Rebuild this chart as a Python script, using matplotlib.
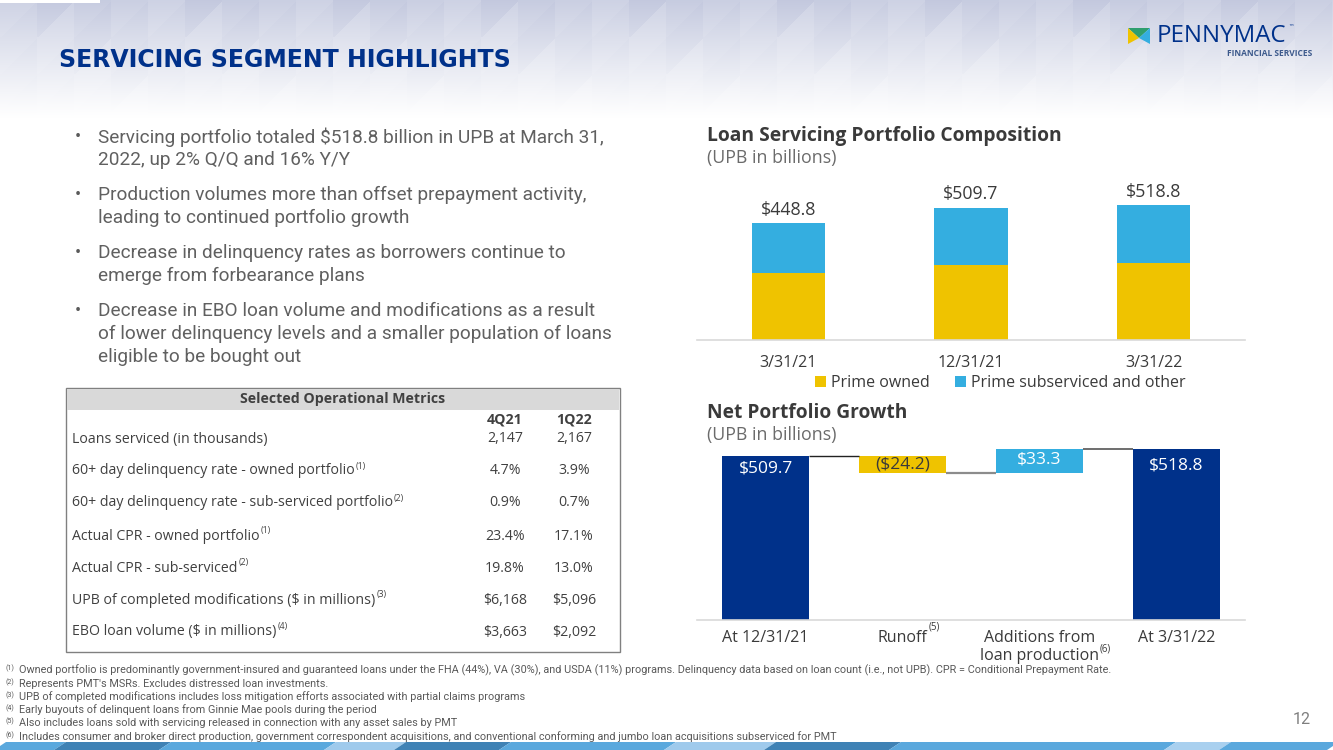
import numpy as np
import matplotlib
matplotlib.use('Agg')
import matplotlib.pyplot as plt
from matplotlib.patches import Rectangle, Polygon

# ---- data ----
comp_dates = ['3/31/21', '12/31/21', '3/31/22']
prime_owned = [259.0, 290.0, 297.0]
prime_subserviced = [189.8, 219.7, 221.8]

wf_labels = ['At 12/31/21', 'Runoff', 'Additions from\nloan production', 'At 3/31/22']
wf_sups = ['', '(5)', '(6)', '']
upb_start = 509.7
runoff = -24.2
additions = 33.3
upb_end = 518.8

metric_names = ['Loans serviced (in thousands)',
                '60+ day delinquency rate - owned portfolio',
                '60+ day delinquency rate - sub-serviced portfolio',
                'Actual CPR - owned portfolio',
                'Actual CPR - sub-serviced',
                'UPB of completed modifications ($ in millions)',
                'EBO loan volume ($ in millions)']
metric_sups = ['', '(1)', '(2)', '(1)', '(2)', '(3)', '(4)']
q4_21 = ['2,147', '4.7%', '0.9%', '23.4%', '19.8%', '$6,168', '$3,663']
q1_22 = ['2,167', '3.9%', '0.7%', '17.1%', '13.0%', '$5,096', '$2,092']

bullets = [
    ['Servicing portfolio totaled $518.8 billion in UPB at March 31,', '2022, up 2% Q/Q and 16% Y/Y'],
    ['Production volumes more than offset prepayment activity,', 'leading to continued portfolio growth'],
    ['Decrease in delinquency rates as borrowers continue to', 'emerge from forbearance plans'],
    ['Decrease in EBO loan volume and modifications as a result',
     'of lower delinquency levels and a smaller population of loans', 'eligible to be bought out'],
]

footnotes = [
    'Owned portfolio is predominantly government-insured and guaranteed loans under the FHA (44%), VA (30%), and USDA (11%) programs. '
    'Delinquency data based on loan count (i.e., not UPB). CPR = Conditional Prepayment Rate.',
    "Represents PMT's MSRs. Excludes distressed loan investments.",
    'UPB of completed modifications includes loss mitigation efforts associated with partial claims programs',
    'Early buyouts of delinquent loans from Ginnie Mae pools during the period',
    'Also includes loans sold with servicing released in connection with any asset sales by PMT',
    'Includes consumer and broker direct production, government correspondent acquisitions, and conventional conforming and jumbo loan acquisitions subserviced for PMT',
]

NAVY = '#00318a'
YELLOW = '#efc300'
SKY = '#34aee0'
DARK = '#3a3a3a'
GRAY = '#595959'
CHART_FONT = 'Open Sans'
BODY_FONT = 'Roboto'

W, H = 1333, 750
fig = plt.figure(figsize=(W / 100, H / 100), dpi=100)
renderer = fig.canvas.get_renderer()

# ---- background ----
bg = fig.add_axes([0, 0, 1, 1], zorder=-5)
yy, xx = np.mgrid[0:H, 0:W]
w = np.clip(1 - yy / 118.0, 0, 1) ** 1.1
s = 37
ci = (xx // s) * 3 + (yy // s) * 5
tri = ((xx % s) + (yy % s)) > s
shade = ((ci + tri) % 4) / 4.0
w = w * (0.88 + 0.24 * shade)
top_col = np.array([0.78, 0.80, 0.88])
img = 1 - w[..., None] * (1 - top_col[None, None, :])
bg.imshow(np.clip(img, 0, 1), extent=[0, W, H, 0], aspect='auto')
bg.set_xlim(0, W)
bg.set_ylim(H, 0)
bg.axis('off')
bg.add_patch(Rectangle((0, 0), 100, 3, facecolor='white', edgecolor='none'))

# bottom band
band = [(0, 60, '#5aa8dd'), (60, 165, '#3f82b5'), (165, 330, '#5aa8dd'), (330, 400, '#9fcaec'),
        (400, 505, '#3f82b5'), (505, 670, '#5aa8dd'), (670, 770, '#9fcaec'), (770, 895, '#3f82b5'),
        (895, 1170, '#5aa8dd'), (1170, 1225, '#a9d0ef'), (1225, 1333, '#5aa8dd')]
for x0, x1, c in band:
    bg.add_patch(Polygon([(x0 - 6, 750), (x0 + 6, 742), (x1 + 6, 742), (x1 - 6, 750)],
                         closed=True, facecolor=c, edgecolor='none'))

# ---- overlay for slide text ----
ov = fig.add_axes([0, 0, 1, 1], zorder=5)
ov.set_xlim(0, W)
ov.set_ylim(H, 0)
ov.axis('off')
ov.patch.set_alpha(0)


def sup_after(t, sup, size, dy, color, family):
    bb = t.get_window_extent(renderer)
    x1, y1 = ov.transData.inverted().transform((bb.x1, (bb.y0 + bb.y1) / 2))
    ov.text(x1 + 1, y1 - dy, sup, fontsize=size, color=color, family=family, va='center', ha='left')


ov.text(59, 60, 'SERVICING SEGMENT HIGHLIGHTS', fontsize=17, fontweight='bold',
        color=NAVY, family='DejaVu Sans', va='center')

# logo
ov.add_patch(Polygon([(1128, 28), (1150, 28), (1139, 38)], closed=True, facecolor='#2f9e6e', edgecolor='none'))
ov.add_patch(Polygon([(1128, 28), (1139, 38), (1128, 44)], closed=True, facecolor=YELLOW, edgecolor='none'))
ov.add_patch(Polygon([(1150, 28), (1139, 38), (1150, 44)], closed=True, facecolor=SKY, edgecolor='none'))
ov.text(1157, 36, 'PENNYMAC', fontsize=17.3, color=NAVY, family=CHART_FONT, va='center')
ov.text(1288, 28, '™', fontsize=4, color=NAVY, va='center')
ov.text(1312, 53, 'FINANCIAL SERVICES', fontsize=6, fontweight='bold', color='#3d5a8c',
        family=CHART_FONT, va='center', ha='right')

# bullets
by = [136, 194, 252, 310]
for y, lines in zip(by, bullets):
    ov.text(75, y + 1, '•', fontsize=13, color=GRAY, va='center', family=BODY_FONT)
    for k, line in enumerate(lines):
        ov.text(98, y + 1 + 23 * k, line, fontsize=13.7, color='#606060', va='center', family=BODY_FONT,
                fontweight='normal')

# table
TS = 10.2
ov.add_patch(Rectangle((66, 388), 554, 264, facecolor='white', edgecolor='#808080', lw=1))
ov.add_patch(Rectangle((67, 389), 552, 21, facecolor='#d9d9d9', edgecolor='none'))
ov.text(343, 399, 'Selected Operational Metrics', fontsize=TS, fontweight='bold', color='#404040',
        family=CHART_FONT, ha='center', va='center')
col_x = [505, 574]
ov.text(col_x[0], 420, '4Q21', fontsize=TS, fontweight='bold', color='#404040', family=CHART_FONT,
        ha='center', va='center')
ov.text(col_x[1], 420, '1Q22', fontsize=TS, fontweight='bold', color='#404040', family=CHART_FONT,
        ha='center', va='center')
row_y = [439, 471, 503, 536, 568, 600, 632]
for y, name, sp, a, b in zip(row_y, metric_names, metric_sups, q4_21, q1_22):
    t = ov.text(72, y, name, fontsize=TS, color='#404040', family=CHART_FONT, va='center')
    if sp:
        sup_after(t, sp, 6.3, 5, '#404040', CHART_FONT)
    ov.text(col_x[0], y, a, fontsize=TS, color='#404040', family=CHART_FONT, ha='center', va='center')
    ov.text(col_x[1], y, b, fontsize=TS, color='#404040', family=CHART_FONT, ha='center', va='center')

# footnotes
fy = [670, 684, 697, 710, 723, 737]
for i, (y, f) in enumerate(zip(fy, footnotes)):
    ov.text(6, y - 2, '(%d)' % (i + 1), fontsize=5, color=GRAY, family=BODY_FONT, va='center')
    ov.text(19, y, f, fontsize=7.8, color=GRAY, family=BODY_FONT, va='center')

ov.text(1311, 719, '12', fontsize=11.5, color='#7f7f7f', family=BODY_FONT, ha='right', va='center')

# ---- chart titles ----
ov.text(707, 136, 'Loan Servicing Portfolio Composition', fontsize=13.9, fontweight='bold',
        color=DARK, family=CHART_FONT, va='center')
ov.text(707, 158, '(UPB in billions)', fontsize=12.8, color='#6b6b6b', family=CHART_FONT, va='center')
ov.text(707, 413, 'Net Portfolio Growth', fontsize=13.8, fontweight='bold',
        color=DARK, family=CHART_FONT, va='center')
ov.text(707, 435, '(UPB in billions)', fontsize=12.8, color='#6b6b6b', family=CHART_FONT, va='center')

# ---- composition chart ----
ax1 = fig.add_axes([697 / W, 1 - 340 / H, 548 / W, 160 / H])
ax1.patch.set_alpha(0)
x = np.arange(len(comp_dates))
totals = np.array(prime_owned) + np.array(prime_subserviced)
ax1.bar(x, prime_owned, width=0.4, color=YELLOW, label='Prime owned')
ax1.bar(x, prime_subserviced, width=0.4, bottom=prime_owned, color=SKY, label='Prime subserviced and other')
for xi, tv in zip(x, totals):
    ax1.text(xi, tv + 18, '$%.1f' % tv, ha='center', va='bottom', fontsize=12.8, color=DARK, family=CHART_FONT)
ax1.set_xlim(-0.5, 2.5)
ax1.set_ylim(0, 616)
ax1.set_xticks(x)
ax1.set_xticklabels(comp_dates, fontsize=11.5, color=DARK, family=CHART_FONT)
ax1.tick_params(axis='x', length=0, pad=11)
ax1.set_yticks([])
for sp in ['top', 'left', 'right']:
    ax1.spines[sp].set_visible(False)
ax1.spines['bottom'].set_color('#d9d9d9')
ax1.spines['bottom'].set_linewidth(1.2)
leg = ax1.legend(loc='center', bbox_to_anchor=(1000 / W, 1 - 383 / H), bbox_transform=fig.transFigure,
                 ncol=2, frameon=False, handlelength=0.7, handleheight=0.7, handletextpad=0.3,
                 columnspacing=1.6, prop={'family': CHART_FONT, 'size': 11.5})
for t in leg.get_texts():
    t.set_color(DARK)

# ---- waterfall chart ----
ax2 = fig.add_axes([697 / W, 1 - 620 / H, 548 / W, 180 / H])
ax2.patch.set_alpha(0)
wf_x = np.arange(len(wf_labels))
bw = 0.63
after_runoff = upb_start + runoff
ax2.bar(wf_x[0], upb_start, width=bw, color=NAVY)
ax2.bar(wf_x[1], runoff, bottom=upb_start, width=bw, color=YELLOW)
ax2.bar(wf_x[2], additions, bottom=after_runoff, width=bw, color=SKY)
ax2.bar(wf_x[3], upb_end, width=bw, color=NAVY)
ax2.hlines(upb_start, wf_x[0] + bw / 2, wf_x[1] - bw / 2, color='#222222', lw=1)
ax2.hlines(after_runoff, wf_x[1] + bw / 2, wf_x[2] - bw / 2, color='#8c8c8c', lw=1.6)
ax2.hlines(upb_end, wf_x[2] + bw / 2, wf_x[3] - bw / 2, color='#555555', lw=1.2)
ax2.set_ylim(285, 285 + 180 / 0.731)
ax2.set_xlim(-0.5, 3.5)
ax2.text(wf_x[0], upb_start - 18, '$%.1f' % upb_start, ha='center', va='center', color='white',
         fontsize=12.5, family=CHART_FONT)
ax2.text(wf_x[1], upb_start + runoff / 2, '($%.1f)' % abs(runoff), ha='center', va='center',
         color=DARK, fontsize=12.5, family=CHART_FONT)
ax2.text(wf_x[2], after_runoff + additions / 2 + 3, '$%.1f' % additions, ha='center', va='center',
         color='white', fontsize=12.5, family=CHART_FONT)
ax2.text(wf_x[3], upb_end - 22, '$%.1f' % upb_end, ha='center', va='center', color='white',
         fontsize=12.5, family=CHART_FONT)
ax2.set_xticks([])
ax2.set_yticks([])
for sp in ['top', 'left', 'right']:
    ax2.spines[sp].set_visible(False)
ax2.spines['bottom'].set_color('#d9d9d9')
ax2.spines['bottom'].set_linewidth(1.2)
sup_raise = [0, 19, 15, 0]
for xi, lab, sp, r in zip(wf_x, wf_labels, wf_sups, sup_raise):
    t = ax2.text(xi, -0.055, lab, transform=ax2.get_xaxis_transform(), ha='center', va='top',
                 fontsize=11.5, color=DARK, family=CHART_FONT, linespacing=1.15)
    if sp:
        bb = t.get_window_extent(renderer)
        px, py = ov.transData.inverted().transform((bb.x1, bb.y0))
        ov.text(px + 1, py - r, sp, fontsize=7, color=DARK, family=CHART_FONT, va='center')

fig.savefig('out.png', dpi=100)
